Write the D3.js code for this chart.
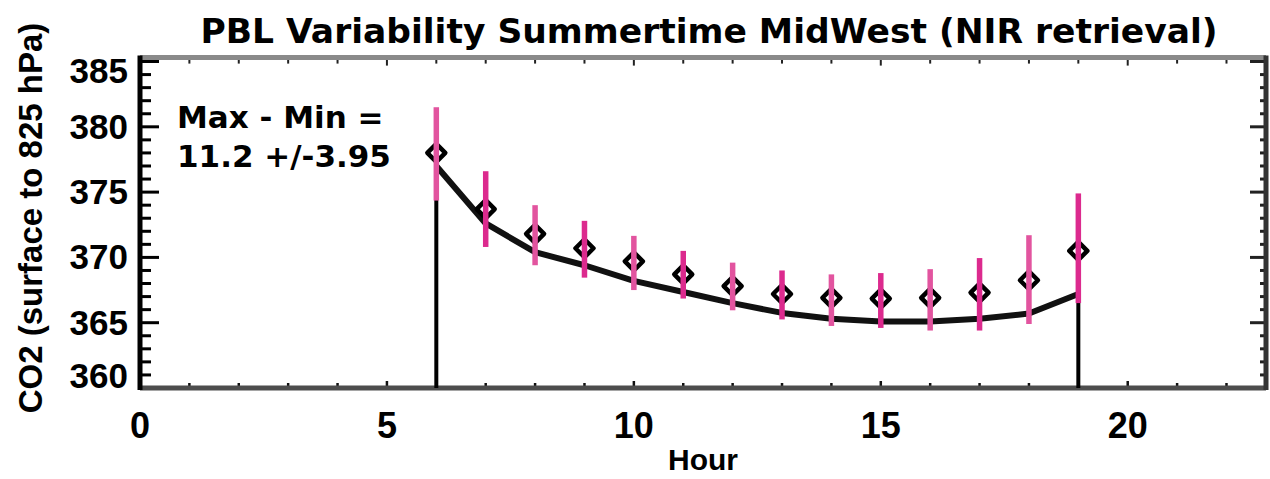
<!DOCTYPE html>
<html>
<head>
<meta charset="utf-8">
<script src="https://cdn.jsdelivr.net/npm/d3@7"></script>
<style>
  html, body { margin: 0; padding: 0; background: #fff; }
  svg { display: block; }
</style>
</head>
<body>
<div id="chart"></div>
<script>
// hours with retrievals
const hours = [6, 7, 8, 9, 10, 11, 12, 13, 14, 15, 16, 17, 18, 19];
// mean CO2 per hour (diamonds)
const co2Mean = [378.0, 373.7, 371.8, 370.7, 369.7, 368.7, 367.8, 367.2, 366.9, 366.85, 366.9, 367.3, 368.25, 370.5];
// error bar top / bottom
const co2High = [381.5, 376.6, 374.0, 372.8, 371.65, 370.5, 369.6, 369.0, 368.7, 368.8, 369.1, 369.95, 371.7, 374.9];
const co2Low = [374.35, 370.8, 369.4, 368.45, 367.5, 366.85, 365.95, 365.25, 364.75, 364.6, 364.4, 364.4, 364.9, 366.5];
// model curve
const co2Model = [377.0, 372.6, 370.4, 369.4, 368.2, 367.35, 366.5, 365.75, 365.3, 365.1, 365.1, 365.3, 365.7, 367.2];

const xTicks = [0, 5, 10, 15, 20];
const yTicks = [360, 365, 370, 375, 380, 385];
const titleText = "PBL Variability Summertime MidWest (NIR retrieval)";
const noteLines = ["Max - Min =", "11.2 +/-3.95"];

const width = 1270;
const height = 479;
const plotL = 140, plotR = 1266, plotT = 57.6, plotB = 388;

const svg = d3.select("#chart")
  .append("svg")
  .attr("width", width)
  .attr("height", height);

svg.append("rect").attr("width", width).attr("height", height).attr("fill", "#fff");

const x = d3.scaleLinear().domain([0, 22.8]).range([plotL, plotR]);
const y = d3.scaleLinear().domain([360, 385.3]).range([plotB, plotT]);

const tickFont = "'Liberation Sans', Arial, sans-serif";
const labelFont = "'DejaVu Sans', sans-serif";

// title
svg.append("text")
  .attr("x", 709)
  .attr("y", 43)
  .attr("text-anchor", "middle")
  .attr("font-family", labelFont)
  .attr("font-weight", "bold")
  .attr("font-size", 34.5)
  .text(titleText);

const minorX = d3.range(0, 23, 1);
const minorY = d3.range(360, 386, 1);

// bottom axis ticks
svg.selectAll(".xtb")
  .data(minorX)
  .enter().append("line")
  .attr("x1", d => x(d)).attr("x2", d => x(d))
  .attr("y1", plotB).attr("y2", d => plotB - (d % 5 === 0 ? 7 : 5))
  .attr("stroke", "#111").attr("stroke-width", 2.5);

// top axis ticks
svg.selectAll(".xtt")
  .data(minorX)
  .enter().append("line")
  .attr("x1", d => x(d)).attr("x2", d => x(d))
  .attr("y1", plotT).attr("y2", d => plotT + (d % 5 === 0 ? 8 : 6))
  .attr("stroke", "#222").attr("stroke-width", 2);

// left / right axis ticks
svg.selectAll(".ytl")
  .data(minorY.filter(d => y(d) >= plotT))
  .enter().append("line")
  .attr("x1", plotL).attr("x2", d => plotL + (d % 5 === 0 ? 19 : 11))
  .attr("y1", d => y(d)).attr("y2", d => y(d))
  .attr("stroke", "#000").attr("stroke-width", 3);

svg.selectAll(".ytr")
  .data(minorY.filter(d => y(d) >= plotT))
  .enter().append("line")
  .attr("x1", plotR).attr("x2", d => plotR - (d % 5 === 0 ? 16 : 6))
  .attr("y1", d => y(d)).attr("y2", d => y(d))
  .attr("stroke", "#222").attr("stroke-width", 3);

svg.append("line").attr("x1", plotL).attr("x2", plotR).attr("y1", plotT).attr("y2", plotT)
  .attr("stroke", "#8a8a8a").attr("stroke-width", 5);
svg.append("line").attr("x1", plotL).attr("x2", plotR).attr("y1", plotB).attr("y2", plotB)
  .attr("stroke", "#4d4d4d").attr("stroke-width", 5);
svg.append("line").attr("x1", plotL).attr("x2", plotL).attr("y1", plotT - 2).attr("y2", plotB + 2)
  .attr("stroke", "#000").attr("stroke-width", 5);
svg.append("line").attr("x1", plotR).attr("x2", plotR).attr("y1", plotT - 2).attr("y2", plotB + 2)
  .attr("stroke", "#333").attr("stroke-width", 5);

// tick labels
svg.selectAll(".xl")
  .data(xTicks)
  .enter().append("text")
  .attr("x", d => x(d))
  .attr("y", 438)
  .attr("text-anchor", "middle")
  .attr("font-family", tickFont)
  .attr("font-weight", "bold")
  .attr("font-size", 36)
  .text(d => d);

svg.selectAll(".yl")
  .data(yTicks)
  .enter().append("text")
  .attr("x", 128)
  .attr("y", d => {
    // end labels sit inside the frame
    let p = y(d);
    if (d === 385) p += 9;
    if (d === 360) p -= 12;
    return p + 12;
  })
  .attr("text-anchor", "end")
  .attr("font-family", tickFont)
  .attr("font-weight", "bold")
  .attr("font-size", 35)
  .text(d => d);

// axis titles
svg.append("text")
  .attr("x", 703)
  .attr("y", 470)
  .attr("text-anchor", "middle")
  .attr("font-family", tickFont)
  .attr("font-weight", "bold")
  .attr("font-size", 30)
  .text("Hour");

svg.append("text")
  .attr("transform", "translate(42,218) rotate(-90)")
  .attr("text-anchor", "middle")
  .attr("font-family", tickFont)
  .attr("font-weight", "bold")
  .attr("font-size", 33)
  .text("CO2 (surface to 825 hPa)");

// annotation
svg.selectAll(".note")
  .data(noteLines)
  .enter().append("text")
  .attr("x", 177)
  .attr("y", (d, i) => 128 + i * 39)
  .attr("font-family", labelFont)
  .attr("font-weight", "bold")
  .attr("font-size", 31)
  .text(d => d);

// model curve with drops to the floor at both ends
const model = hours.map((h, i) => [h, co2Model[i]]);
const line = d3.line().x(d => x(d[0])).y(d => y(d[1]));

svg.append("path")
  .datum([[hours[0], 360], model[0]])
  .attr("d", line)
  .attr("fill", "none").attr("stroke", "#000").attr("stroke-width", 4);
svg.append("path")
  .datum([model[model.length - 1], [hours[hours.length - 1], 360]])
  .attr("d", line)
  .attr("fill", "none").attr("stroke", "#000").attr("stroke-width", 4);
svg.append("path")
  .datum(model)
  .attr("d", line)
  .attr("fill", "none").attr("stroke", "#111").attr("stroke-width", 6)
  .attr("stroke-linejoin", "round");

// diamonds
const pts = hours.map((h, i) => ({ h, m: co2Mean[i], hi: co2High[i], lo: co2Low[i] }));
svg.selectAll(".dia")
  .data(pts)
  .enter().append("path")
  .attr("d", d => {
    const cx = x(d.h), cy = y(d.m), r = 9;
    return `M${cx},${cy - r}L${cx + r},${cy}L${cx},${cy + r}L${cx - r},${cy}Z`;
  })
  .attr("fill", "none")
  .attr("stroke", "#000")
  .attr("stroke-width", 4.5)
  .attr("stroke-linejoin", "round");

// error bars
svg.selectAll(".err")
  .data(pts)
  .enter().append("line")
  .attr("x1", d => x(d.h)).attr("x2", d => x(d.h))
  .attr("y1", d => y(d.hi)).attr("y2", d => y(d.lo))
  .attr("stroke", (d, i) => i % 2 ? "#dc2a8e" : "#e2549f")
  .attr("stroke-width", 5.5);
</script>
</body>
</html>
